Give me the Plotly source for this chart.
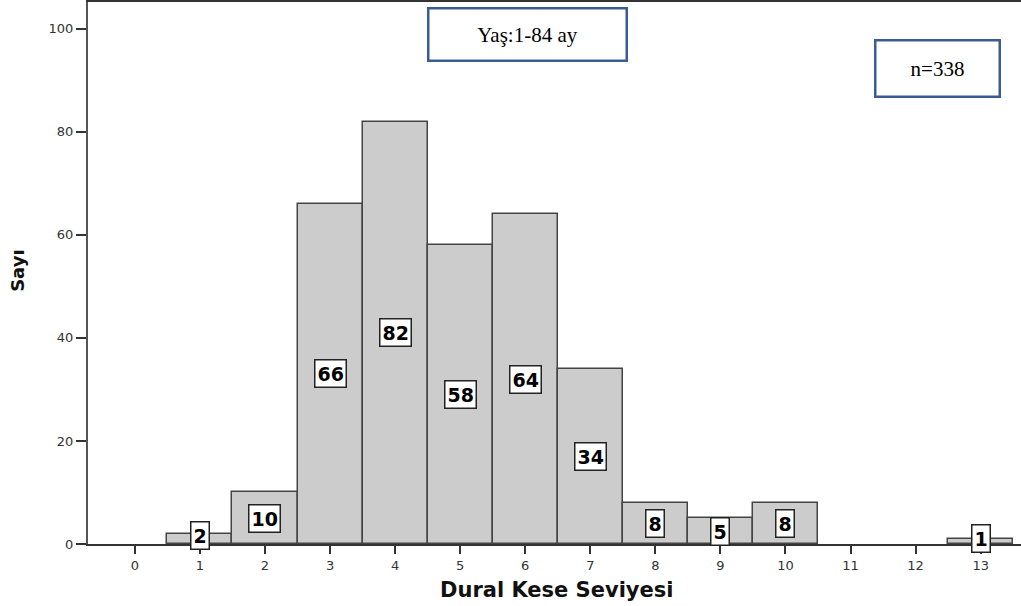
import plotly.graph_objects as go

levels = [1, 2, 3, 4, 5, 6, 7, 8, 9, 10, 11, 12, 13]
counts = [2, 10, 66, 82, 58, 64, 34, 8, 5, 8, 0, 0, 1]
x_ticks = list(range(0, 14))
y_ticks = [0, 20, 40, 60, 80, 100]

fig = go.Figure()
fig.add_trace(go.Bar(
    x=levels, y=counts, width=1,
    marker=dict(color="#cccccc",
                line=dict(color="#444444", width=[1.5 if c > 0 else 0 for c in counts])),
    hoverinfo="x+y", showlegend=False,
))

for lv, c in zip(levels, counts):
    if c > 0:
        fig.add_annotation(
            x=lv, y=c / 2, xref="x", yref="y", text=f"<b>{c}</b>",
            showarrow=False, bgcolor="white", bordercolor="#222222", borderwidth=1.5,
            borderpad=2, font=dict(family="DejaVu Sans", size=19, color="black"),
            yshift=3 if c < 5 else 0,
        )

fig.add_annotation(
    x=6.03, y=98.8, xref="x", yref="y", text="Yaş:1-84 ay", showarrow=False,
    width=194, height=48, bgcolor="white", bordercolor="#3a5a98", borderwidth=2.5,
    font=dict(family="Liberation Serif, Times New Roman", size=21, color="black"),
)
fig.add_annotation(
    x=12.34, y=92.2, xref="x", yref="y", text="n=338", showarrow=False,
    width=120, height=52, bgcolor="white", bordercolor="#3a5a98", borderwidth=2.5,
    font=dict(family="Liberation Serif, Times New Roman", size=21, color="black"),
)

# axis titles
fig.add_annotation(
    x=0.503, y=-0.085, xref="paper", yref="paper", text="<b>Dural Kese Seviyesi</b>",
    xanchor="center", yanchor="middle",
    showarrow=False, font=dict(family="DejaVu Sans", size=21, color="#111111"),
)
fig.add_annotation(
    x=-0.075, y=0.504, xref="paper", yref="paper", text="<b>Sayı</b>", textangle=-90,
    xanchor="center", yanchor="middle",
    showarrow=False, font=dict(family="DejaVu Sans", size=18, color="#111111"),
)

fig.update_layout(
    width=1021, height=606,
    margin=dict(l=88, r=0, t=2, b=62),
    plot_bgcolor="white", paper_bgcolor="white",
    bargap=0,
    xaxis=dict(
        range=[-0.72, 13.62], tickmode="array", tickvals=x_ticks, automargin=False,
        ticks="outside", ticklen=8, tickwidth=2, tickcolor="#333333",
        showline=True, linecolor="#333333", linewidth=2, mirror=True,
        showgrid=False, zeroline=False,
        tickfont=dict(family="DejaVu Sans", size=13, color="#333333"),
    ),
    yaxis=dict(
        range=[0, 105.2], tickmode="array", tickvals=y_ticks, automargin=False,
        ticks="outside", ticklen=10, tickwidth=2, tickcolor="#333333",
        showline=True, linecolor="#555555", linewidth=2,
        showgrid=False, zeroline=False,
        tickfont=dict(family="DejaVu Sans", size=13, color="#333333"),
    ),
)

fig.write_html("out.html", config={"displayModeBar": False},
               post_script="document.body.style.margin='0';")
